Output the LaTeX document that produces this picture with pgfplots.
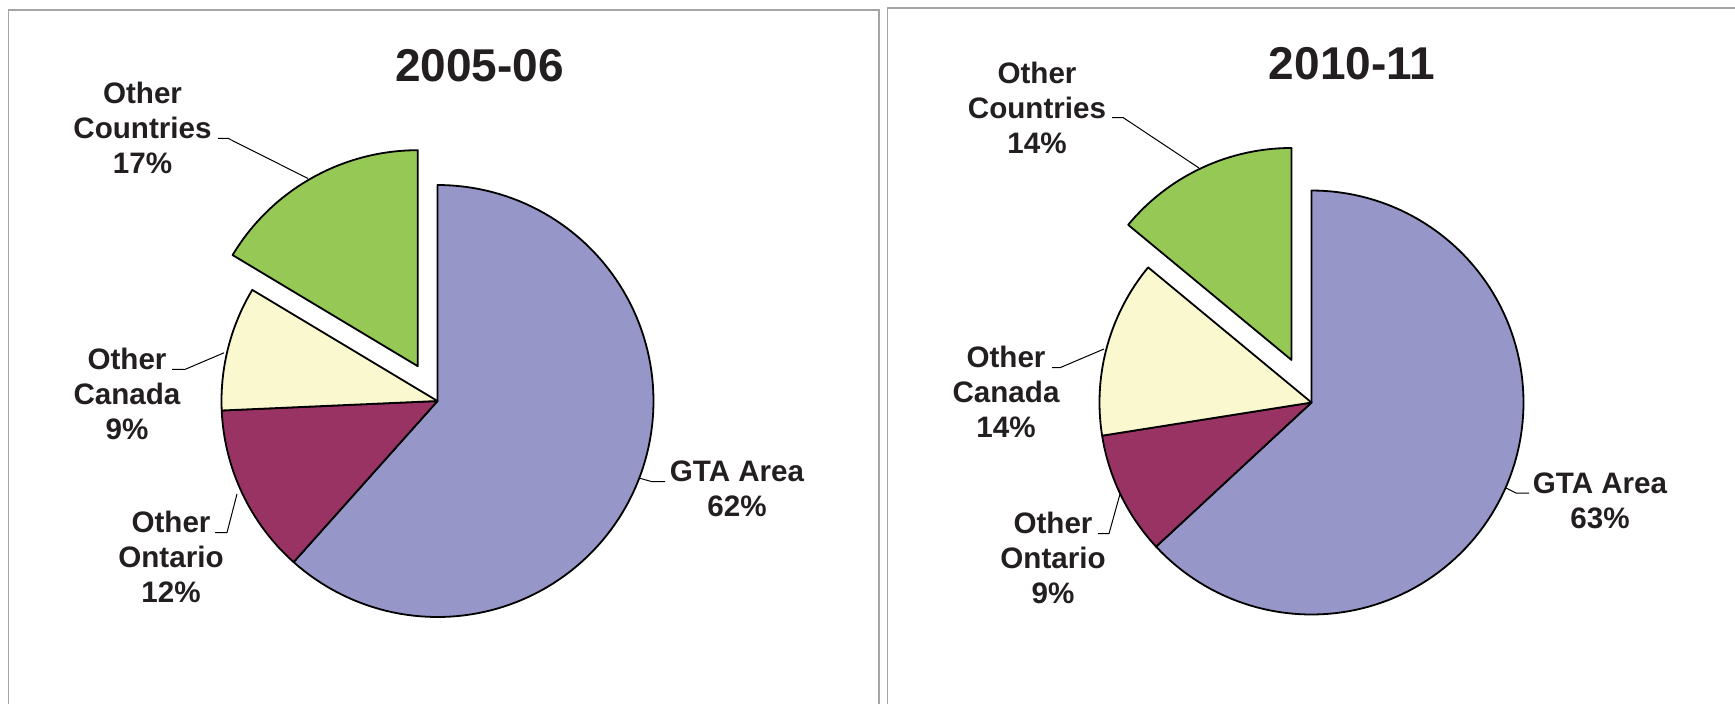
\documentclass[border=0pt]{standalone}
\usepackage{pgfplots}
\pgfplotsset{compat=1.18}
\usepackage{pgfplotstable}
\usepackage{fontspec}
\setmainfont{Liberation Sans}

\definecolor{gtacol}{RGB}{150,150,200}
\definecolor{ontcol}{RGB}{153,51,100}
\definecolor{cancol}{RGB}{250,248,206}
\definecolor{coucol}{RGB}{150,200,85}
\definecolor{txtcol}{RGB}{35,31,32}
\definecolor{bordercol}{RGB}{165,165,165}

% shares in percent, in Excel order (clockwise from 12 o'clock)
\pgfplotstableread{
label value
GTA 61.6
Ontario 12.7
Canada 9.3
Countries 16.4
}\datafirst
\pgfplotstableread{
label value
GTA 63.1
Ontario 9.4
Canada 13.5
Countries 14.0
}\datasecond

\newcommand{\pieslice}[6]{%
  \edef\doslice{\noexpand\addplot[fill=#6, draw=black, line width=0.9pt, line join=round,
     domain=#4:#5, samples=120, variable=\noexpand\t]
     ({#1+#3*cos(\noexpand\t)},{#2-#3*sin(\noexpand\t)}) -- (axis cs:#1,#2) -- cycle;}%
  \doslice
}
\newcommand{\drawpie}[5]{%
  \pgfplotstablegetelem{0}{value}\of#1\edef\vA{\pgfplotsretval}%
  \pgfplotstablegetelem{1}{value}\of#1\edef\vB{\pgfplotsretval}%
  \pgfplotstablegetelem{2}{value}\of#1\edef\vC{\pgfplotsretval}%
  \pgfplotstablegetelem{3}{value}\of#1\edef\vD{\pgfplotsretval}%
  \pgfmathsetmacro\aA{90-3.6*\vA}%
  \pgfmathsetmacro\aB{\aA-3.6*\vB}%
  \pgfmathsetmacro\aC{\aB-3.6*\vC}%
  \pgfmathsetmacro\aD{\aC-3.6*\vD}%
  \pgfmathsetmacro\aM{(\aC+\aD)/2}%
  \pgfmathsetmacro\ex{#2+#5*cos(\aM)}%
  \pgfmathsetmacro\ey{#3-#5*sin(\aM)}%
  \pieslice{#2}{#3}{#4}{\aA}{90}{gtacol}%
  \pieslice{#2}{#3}{#4}{\aB}{\aA}{ontcol}%
  \pieslice{#2}{#3}{#4}{\aC}{\aB}{cancol}%
  \pieslice{\ex}{\ey}{#4}{\aD}{\aC}{coucol}%
}
\newcommand{\lblfont}{\fontsize{14.8}{17}\selectfont\bfseries\color{txtcol}}
\newcommand{\lblthree}[5]{%
  \node[anchor=base, inner sep=0pt, font=\lblfont] at (axis cs:#1,#2) {#3};
  \node[anchor=base, inner sep=0pt, font=\lblfont] at (axis cs:#1,#2+35) {#4};
  \node[anchor=base, inner sep=0pt, font=\lblfont] at (axis cs:#1,#2+70) {#5};
}
\newcommand{\lbltwo}[4]{%
  \node[anchor=base, inner sep=0pt, font=\lblfont] at (axis cs:#1,#2) {#3};
  \node[anchor=base, inner sep=0pt, font=\lblfont] at (axis cs:#1,#2+35) {#4};
}

\pgfplotsset{pieaxis/.style={hide axis, clip=false, enlargelimits=false,
  x=0.5pt, y=0.5pt, y dir=reverse, ymin=0, ymax=703, anchor=north west}}

\begin{document}
\begin{tikzpicture}
\useasboundingbox (0,0) rectangle (867.5pt,351.5pt);
% panel frames
\draw[bordercol, line width=0.75pt] (4.25pt,-2pt) -- (4.25pt,346.5pt) -- (439.5pt,346.5pt) -- (439.5pt,-2pt);
\draw[bordercol, line width=0.75pt] (443.75pt,-2pt) -- (443.75pt,347.4pt) -- (870pt,347.4pt);

\begin{axis}[pieaxis, xmin=0, xmax=884, at={(0pt,351.5pt)}]
\drawpie{\datafirst}{437.5}{401}{216}{40}
\draw[black, line width=0.5pt] (axis cs:218,138.3) -- (axis cs:228,138.3) -- (axis cs:308,178.5);
\draw[black, line width=0.5pt] (axis cs:172,369.4) -- (axis cs:185,369.4) -- (axis cs:224,352.8);
\draw[black, line width=0.5pt] (axis cs:215,532.6) -- (axis cs:227,532.6) -- (axis cs:237,494);
\draw[black, line width=0.5pt] (axis cs:665,481.7) -- (axis cs:652,481.7) -- (axis cs:639,478);
\node[anchor=base, inner sep=0pt, font=\fontsize{23}{27}\selectfont\bfseries\color{txtcol}] at (axis cs:479.5,81) {2005-06};
\lblthree{142.5}{103}{Other}{Countries}{17\%}
\lblthree{127}{369.4}{Other}{Canada}{9\%}
\lblthree{171}{532.6}{Other}{Ontario}{12\%}
\lbltwo{737}{481.7}{GTA Area}{62\%}
\end{axis}

\begin{axis}[pieaxis, xmin=884, xmax=1735, at={(442pt,351.5pt)}]
\drawpie{\datasecond}{1311.5}{402.5}{212}{47}
\draw[black, line width=0.5pt] (axis cs:1112,117.5) -- (axis cs:1123,117.5) -- (axis cs:1199,168);
\draw[black, line width=0.5pt] (axis cs:1052,367.7) -- (axis cs:1060,367.7) -- (axis cs:1104,349);
\draw[black, line width=0.5pt] (axis cs:1098,533.6) -- (axis cs:1109,533.6) -- (axis cs:1120,494);
\draw[black, line width=0.5pt] (axis cs:1529,493) -- (axis cs:1516,493) -- (axis cs:1506,488);
\node[anchor=base, inner sep=0pt, font=\fontsize{23}{27}\selectfont\bfseries\color{txtcol}] at (axis cs:1352,79) {2010-11};
\lblthree{1037}{83}{Other}{Countries}{14\%}
\lblthree{1006}{367.7}{Other}{Canada}{14\%}
\lblthree{1053}{533.6}{Other}{Ontario}{9\%}
\lbltwo{1600}{493}{GTA Area}{63\%}
\end{axis}
\end{tikzpicture}
\end{document}
